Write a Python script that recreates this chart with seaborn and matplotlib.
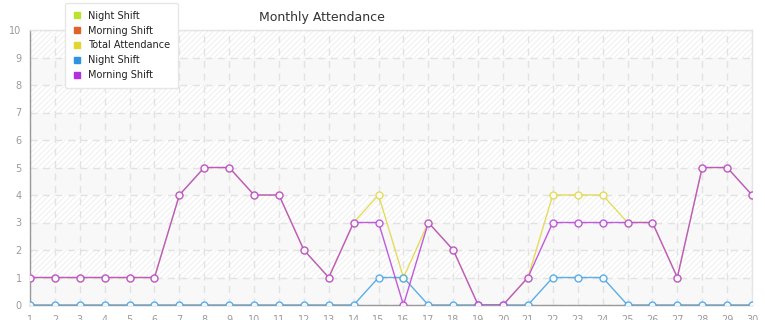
import matplotlib
matplotlib.use("Agg")
import matplotlib.pyplot as plt
from matplotlib.lines import Line2D
import seaborn as sns
import pandas as pd

days = list(range(1, 31))
total_attendance = [1, 1, 1, 1, 1, 1, 4, 5, 5, 4, 4, 2, 1, 3, 4, 1, 3, 2, 0, 0, 1, 4, 4, 4, 3, 3, 1, 5, 5, 4]
night_shift = [0, 0, 0, 0, 0, 0, 0, 0, 0, 0, 0, 0, 0, 0, 1, 1, 0, 0, 0, 0, 0, 1, 1, 1, 0, 0, 0, 0, 0, 0]
morning_shift = [1, 1, 1, 1, 1, 1, 4, 5, 5, 4, 4, 2, 1, 3, 3, 0, 3, 2, 0, 0, 1, 3, 3, 3, 3, 3, 1, 5, 5, 4]
legend_labels = ["Night Shift", "Morning Shift", "Total Attendance", "Night Shift", "Morning Shift"]
legend_colors = ["#bde22e", "#e0622c", "#e2d52e", "#2f93e0", "#b32fe0"]
y_ticks = list(range(0, 11))

series_names = ["Total Attendance", "Night Shift", "Morning Shift"]
line_colors = {"Total Attendance": "#e3d84a", "Night Shift": "#4ba6e2", "Morning Shift": "#b94ad8"}

df = pd.concat([
    pd.DataFrame({"day": days, "value": total_attendance, "series": "Total Attendance"}),
    pd.DataFrame({"day": days, "value": night_shift, "series": "Night Shift"}),
    pd.DataFrame({"day": days, "value": morning_shift, "series": "Morning Shift"}),
])

sns.set_style("white")
plt.rcParams["font.family"] = ["DejaVu Sans"]
plt.rcParams["hatch.color"] = "#e8e8e8"
plt.rcParams["hatch.linewidth"] = 0.6

fig = plt.figure(figsize=(7.65, 3.2), dpi=100)
ax = fig.add_axes([30 / 765, 1 - 305 / 320, 722 / 765, 275 / 320])

# background bands
for lo in range(0, 10):
    if lo % 2 == 1:
        ax.axhspan(lo, lo + 1, facecolor="white", hatch="//////", edgecolor="#ededed", linewidth=0, zorder=0)
    else:
        ax.axhspan(lo, lo + 1, facecolor="#f8f8f8", linewidth=0, zorder=0)

sns.lineplot(data=df, x="day", y="value", hue="series", hue_order=series_names,
             palette=line_colors, marker="o", markersize=5, markerfacecolor="white",
             markeredgewidth=1.0, linewidth=1.0, alpha=0.9, ax=ax, legend=False, zorder=3)
for line in ax.lines:
    line.set_markeredgecolor(line.get_color())

ax.set_xlim(1, 30)
ax.set_ylim(0, 10)
ax.set_xticks(days)
ax.set_yticks(y_ticks)
ax.set_xlabel("")
ax.set_ylabel("")
ax.grid(True, color="#e2e2e2", linestyle=(0, (5, 4)), linewidth=1.0, zorder=1)
ax.set_axisbelow(True)
ax.tick_params(axis="both", colors="#9a9a9a", labelsize=7, length=4, width=1, direction="out", pad=2)
ax.tick_params(axis="x", pad=3)
for side in ["top", "right"]:
    ax.spines[side].set_color("#e4e4e4")
    ax.spines[side].set_linewidth(1)
for side in ["left", "bottom"]:
    ax.spines[side].set_color("#999999")
    ax.spines[side].set_linewidth(1)

fig.text(322 / 765, 1 - 17 / 320, "Monthly Attendance", ha="center", va="center",
         fontsize=9, color="#333333")

handles = [Line2D([0], [0], marker="s", linestyle="none", markersize=5,
                  markerfacecolor=c, markeredgecolor=c) for c in legend_colors]
leg = fig.legend(handles, legend_labels, loc="upper left", bbox_to_anchor=(65 / 765, 1 - 3 / 320),
                 fontsize=7, frameon=True, fancybox=True, shadow=False, framealpha=1,
                 edgecolor="#e6e6e6", handlelength=0.8, handletextpad=0.8, labelspacing=0.5,
                 borderpad=0.8, borderaxespad=0)
leg.get_frame().set_linewidth(1)
for t in leg.get_texts():
    t.set_color("#222222")

fig.savefig("out.png", dpi=100)
